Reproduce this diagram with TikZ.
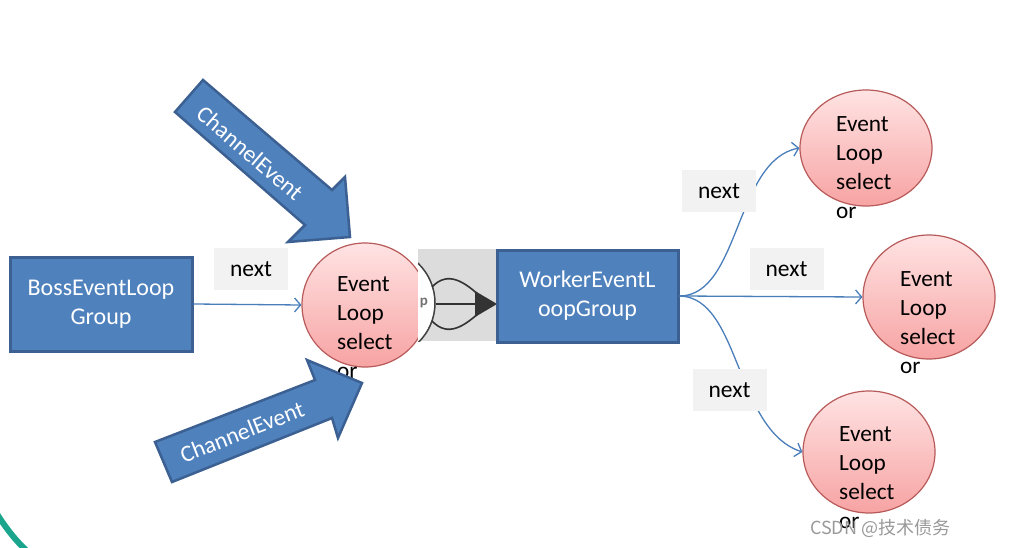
\documentclass[tikz,border=0pt]{standalone}
\usepackage{fontspec}
\setmainfont{Carlito}
\newfontfamily\cjkfont{Noto Sans CJK SC}
\usetikzlibrary{arrows.meta,shapes.geometric}
\definecolor{boxblue}{HTML}{4F81BD}
\definecolor{boxedge}{HTML}{3B6091}
\definecolor{lineblue}{HTML}{4A7EBB}
\definecolor{pinktop}{HTML}{FFE3E3}
\definecolor{pinkbot}{HTML}{F7A3A3}
\definecolor{pinkedge}{HTML}{B85A5A}
\definecolor{labelgray}{HTML}{F2F2F2}
\definecolor{imggray}{HTML}{DCDCDC}
\definecolor{tealarc}{HTML}{1BA58C}
\begin{document}
\begin{tikzpicture}[x=1pt,y=-1pt,
 bluebox/.style={draw=boxedge, line width=3pt, fill=boxblue, text=white, align=center, font=\fontsize{24}{29}\selectfont, inner sep=0},
 loop/.style={ellipse, draw=pinkedge, line width=1.2pt, top color=pinktop, bottom color=pinkbot, inner sep=0},
 looptext/.style={anchor=north west, align=left, inner sep=0, font=\fontsize{23.3}{29}\selectfont},
 nextlabel/.style={fill=labelgray, minimum width=74pt, minimum height=42pt, font=\fontsize{23.5}{26}\selectfont, inner sep=0},
 conn/.style={draw=lineblue, line width=1.3pt, -{Straight Barb[length=6pt,width=14pt]}},
 chev/.style={draw=boxedge, line width=2.5pt, fill=boxblue, line join=miter},
 chevtext/.style={text=white, font=\fontsize{23.5}{26}\selectfont, inner sep=0}
]
\useasboundingbox (0,0) rectangle (1014,548);
\fill[white] (0,0) rectangle (1014,548);

% teal corner arc
\draw[tealarc, line width=6pt] (-3,514) .. controls (6,528) and (15,540) .. (28,552);

% boss box
\node[bluebox, minimum width=182pt, minimum height=94pt] (boss) at (101,304) {BossEventLoop\\Group};

% first event loop
\node[loop, minimum width=126pt, minimum height=124pt] (c1) at (365,305) {};
\node[looptext] (t1) at (337,276) {Event\\Loop\\select\\or};

% image fragment between
\fill[imggray] (418,249) rectangle (497,341);
\begin{scope}
\clip (418,249) rectangle (497,341);
\draw[line width=1.5pt, draw=black!75, fill=white] (380,303) circle[radius=55];
\node[text=black!55, font=\fontsize{15}{15}\selectfont\bfseries, inner sep=0] (pp) at (424,303) {p};
\end{scope}
\draw[line width=1.6pt, black!80] (432,287) .. controls (448,270) and (465,282) .. (482,298);
\draw[line width=1.6pt, black!80] (436,304) -- (480,304);
\draw[line width=1.6pt, black!80] (432,321) .. controls (448,338) and (465,326) .. (482,310);
\fill[black!80] (475,291) -- (497,304) -- (475,317) -- cycle;

% worker box
\node[bluebox, minimum width=181pt, minimum height=92pt] (worker) at (587.5,296) {WorkerEventL\\oopGroup};

% right event loops
\node[loop, minimum width=132pt, minimum height=116pt] (ct) at (866,148) {};
\node[looptext] (tt) at (836,116) {Event\\Loop\\select\\or};
\node[loop, minimum width=132pt, minimum height=124pt] (cm) at (929,297) {};
\node[looptext] (tm) at (900,271) {Event\\Loop\\select\\or};
\node[loop, minimum width=132pt, minimum height=122pt] (cb) at (869,452) {};
\node[looptext] (tb) at (839,426) {Event\\Loop\\select\\or};

% connectors
\draw[conn] (boss.east) -- (c1.west);
\draw[conn] (worker.east) .. controls (740,296) and (735,160) .. (ct.west);
\draw[conn] (worker.east) -- (cm.west);
\draw[conn] (worker.east) .. controls (740,297) and (735,430) .. (cb.west);

% next labels
\node[nextlabel] (n1) at (251,269) {next};
\node[nextlabel] (n2) at (719,191) {next};
\node[nextlabel] (n3) at (786.5,269) {next};
\node[nextlabel] (n4) at (729.5,390) {next};

% ChannelEvent block arrows
\draw[chev] (203,80) -- (332,190) -- (345,177) -- (350,237) -- (288,242) -- (305,225) -- (175,112) -- cycle;
\node[chevtext, rotate=-40.5] (ce1) at (250,153) {ChannelEvent};
\draw[chev] (155,442) -- (315,380) -- (307,360) -- (362,383) -- (338,438) -- (332,418) -- (172,482) -- cycle;
\node[chevtext, rotate=21.5] (ce2) at (242,432) {ChannelEvent};

% watermark
\node[text=black!40, font=\cjkfont\fontsize{18}{18}\selectfont, anchor=west, inner sep=0] (wm) at (810,528) {CSDN @技术债务};
\end{tikzpicture}
\end{document}
